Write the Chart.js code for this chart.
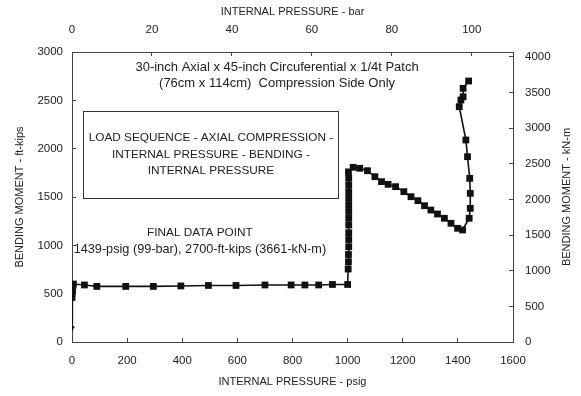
<!DOCTYPE html>
<html>
<head>
<meta charset="utf-8">
<script src="https://cdn.jsdelivr.net/npm/chart.js@4/dist/chart.umd.min.js"></script>
<style>
  body { margin: 0; background: #fff; }
  canvas { display: block; }
</style>
</head>
<body>
<canvas id="chart" width="581" height="396"></canvas>
<script>
// test data: internal pressure (psig) vs bending moment (ft-kips)
const pressurePsig = [
  0, 0, 0, 2, 3, 5, 45, 90, 195, 295, 395, 495, 595, 700, 795, 845, 895, 945, 1000,
  1002, 1003, 1003, 1004, 1004, 1004, 1004, 1004, 1004, 1004, 1004, 1004, 1004, 1004, 1003,
  1020, 1044, 1072, 1099, 1123, 1147, 1174, 1204, 1230, 1255, 1279, 1302, 1326, 1351, 1375, 1399, 1417,
  1441, 1445, 1445, 1443, 1435, 1429, 1405, 1411, 1419, 1419, 1439
];
const momentFtKips = [
  145, 460, 500, 540, 580, 600, 590, 575, 575, 575, 580, 585, 585, 590, 590, 590, 590, 595, 595,
  755, 830, 905, 985, 1060, 1130, 1210, 1280, 1350, 1415, 1485, 1555, 1625, 1695, 1760,
  1807, 1797, 1772, 1710, 1659, 1631, 1607, 1555, 1503, 1462, 1410, 1365, 1324, 1280, 1228, 1176, 1159,
  1280, 1383, 1538, 1693, 1917, 2090, 2434, 2503, 2537, 2624, 2700
];

const psigTicks = [0, 200, 400, 600, 800, 1000, 1200, 1400, 1600];
const barTicks = [0, 20, 40, 60, 80, 100];
const ftKipsTicks = [0, 500, 1000, 1500, 2000, 2500, 3000];
const kNmTicks = [0, 500, 1000, 1500, 2000, 2500, 3000, 3500, 4000];

const PSI_PER_BAR = 14.5038;
const KNM_PER_FTKIP = 1.35582;

// text notes placed in data units (psig, ft-kips)
const noteLines = [
  { text: "30-inch Axial x 45-inch Circuferential x 1/4t Patch", x: 744, y: 2845, size: 13 },
  { text: "(76cm x 114cm)  Compression Side Only", x: 744, y: 2679, size: 13 },
  { text: "LOAD SEQUENCE - AXIAL COMPRESSION -", x: 504, y: 2110, size: 11.8 },
  { text: "INTERNAL PRESSURE - BENDING -", x: 504, y: 1934, size: 11.8 },
  { text: "INTERNAL PRESSURE", x: 504, y: 1769, size: 11.8 },
  { text: "FINAL DATA POINT", x: 464, y: 1128, size: 11.8 },
  { text: "1439-psig (99-bar), 2700-ft-kips (3661-kN-m)", x: 464, y: 952, size: 12.7 }
];
const noteBox = { x1: 40, x2: 965, y1: 2390, y2: 1490 };
const rightTitle = "BENDING MOMENT - kN-m";

const FONT = "'Liberation Sans', Arial, sans-serif";
const INK = "#222";

const points = pressurePsig.map((p, i) => ({ x: p, y: momentFtKips[i] }));

const notesPlugin = {
  id: "notes",
  afterDatasetsDraw(chart) {
    const { ctx, scales, chartArea } = chart;
    const sx = scales.x, sy = scales.y;
    ctx.save();
    ctx.strokeStyle = "#333";
    ctx.lineWidth = 1;
    const bx = sx.getPixelForValue(noteBox.x1), by = sy.getPixelForValue(noteBox.y1);
    ctx.strokeRect(Math.round(bx) + 0.5, Math.round(by) + 0.5,
      Math.round(sx.getPixelForValue(noteBox.x2) - bx),
      Math.round(sy.getPixelForValue(noteBox.y2) - by));
    ctx.fillStyle = INK;
    ctx.textAlign = "center";
    ctx.textBaseline = "middle";
    noteLines.forEach(n => {
      ctx.font = n.size + "px " + FONT;
      ctx.fillText(n.text, sx.getPixelForValue(n.x), sy.getPixelForValue(n.y));
    });
    // right axis title reads bottom-to-top like the left one
    ctx.font = "11px " + FONT;
    ctx.translate(scales.y2.right - 14, (chartArea.top + chartArea.bottom) / 2);
    ctx.rotate(-Math.PI / 2);
    ctx.fillText(rightTitle, 0, 0);
    ctx.restore();
  }
};

function fixSize(size) {
  return scale => {
    if (scale.isHorizontal()) scale.height = size;
    else scale.width = size;
  };
}

function axis(position, min, max, tickList, title, size, pad, titlePad) {
  return {
    type: "linear",
    position: position,
    min: min,
    max: max,
    afterFit: fixSize(size),
    afterBuildTicks: scale => { scale.ticks = tickList.map(v => ({ value: v })); },
    border: { display: true, color: "#444", width: 1 },
    grid: { display: true, drawOnChartArea: false, drawTicks: true, tickLength: -4, color: "#444" },
    ticks: {
      color: INK,
      font: { family: FONT, size: 11.5 },
      padding: pad,
      maxRotation: 0,
      includeBounds: false,
      callback: v => String(v)
    },
    title: {
      display: title !== null,
      text: title || "",
      color: INK,
      font: { family: FONT, size: 11 },
      padding: titlePad
    }
  };
}

new Chart(document.getElementById("chart"), {
  type: "scatter",
  data: {
    datasets: [{
      data: points,
      showLine: true,
      borderColor: "#111",
      borderWidth: 1.6,
      backgroundColor: "#111",
      pointBackgroundColor: "#111",
      pointBorderColor: "#111",
      pointStyle: points.map((p, i) => i === 0 ? "triangle" : "rect"),
      pointRotation: points.map((p, i) => i === 0 ? 180 : 0),
      pointRadius: points.map((p, i) => i === 0 ? 3.5 : 4.8),
      pointBorderWidth: 0
    }]
  },
  options: {
    responsive: false,
    animation: false,
    layout: { padding: 0 },
    plugins: { legend: { display: false }, tooltip: { enabled: false } },
    scales: {
      x: axis("bottom", 0, 1600, psigTicks, "INTERNAL PRESSURE - psig", 54, 16, 7),
      x2: axis("top", 0, 1600 / PSI_PER_BAR, barTicks, "INTERNAL PRESSURE - bar", 52, 19, 5),
      y: axis("left", 0, 3000, ftKipsTicks, "BENDING MOMENT - ft-kips", 72, 13, 13),
      y2: axis("right", 0, 3000 * KNM_PER_FTKIP, kNmTicks, null, 68, 16, 7)
    }
  },
  plugins: [notesPlugin]
});
</script>
</body>
</html>
